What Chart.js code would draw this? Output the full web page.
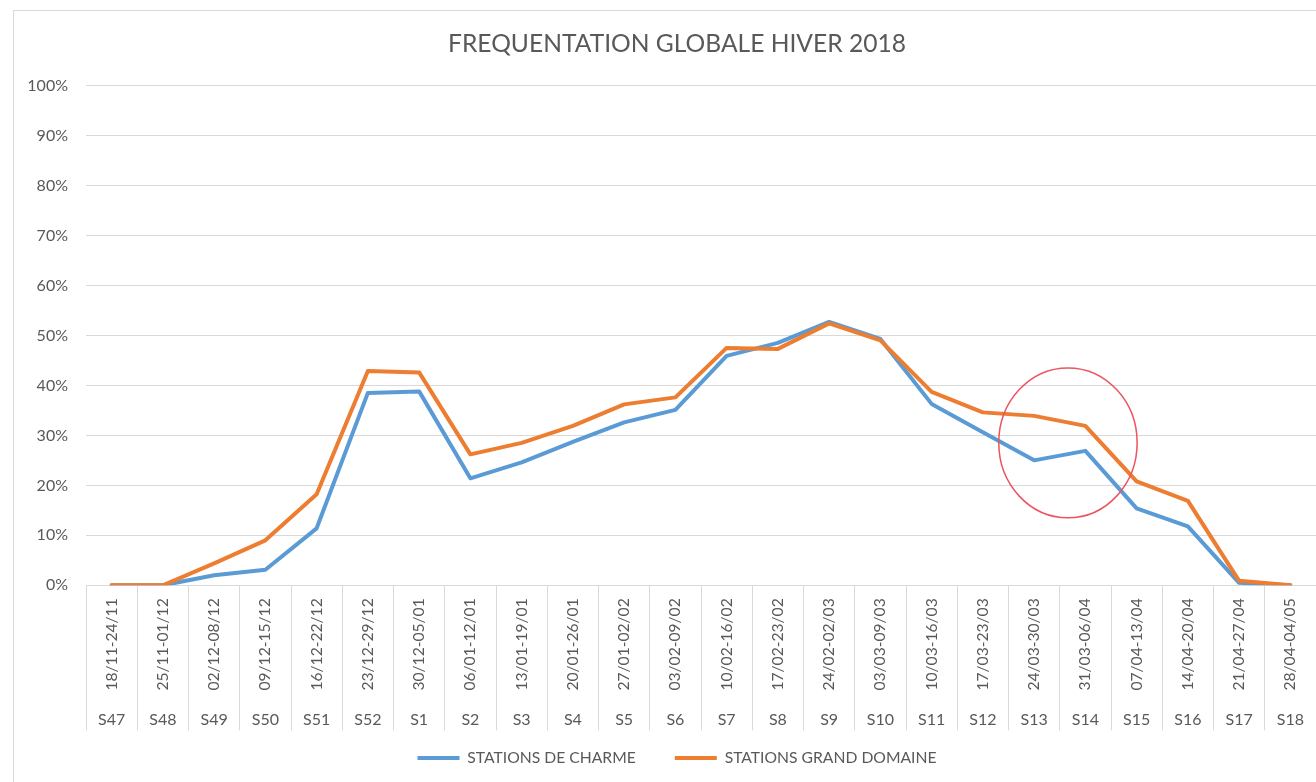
<!DOCTYPE html>
<html>
<head>
<meta charset="utf-8">
<script src="https://cdn.jsdelivr.net/npm/chart.js@4/dist/chart.umd.min.js"></script>
<style>
html,body{margin:0;padding:0;background:#fff;overflow:hidden;width:1316px;height:782px;}
#wrap{position:absolute;left:13px;top:10px;border-left:1px solid #d9d9d9;border-top:1px solid #d9d9d9;}
canvas{display:block;}
</style>
</head>
<body>
<div id="wrap"><canvas id="c" width="1326" height="784"></canvas></div>
<script>
// ---- data ----
const TITLE = 'FREQUENTATION GLOBALE HIVER 2018';
const dateLabels = ['18/11-24/11','25/11-01/12','02/12-08/12','09/12-15/12','16/12-22/12','23/12-29/12',
  '30/12-05/01','06/01-12/01','13/01-19/01','20/01-26/01','27/01-02/02','03/02-09/02',
  '10/02-16/02','17/02-23/02','24/02-02/03','03/03-09/03','10/03-16/03','17/03-23/03',
  '24/03-30/03','31/03-06/04','07/04-13/04','14/04-20/04','21/04-27/04','28/04-04/05'];
const weekLabels = ['S47','S48','S49','S50','S51','S52','S1','S2','S3','S4','S5','S6',
  'S7','S8','S9','S10','S11','S12','S13','S14','S15','S16','S17','S18'];
const seriesNames = ['STATIONS DE CHARME','STATIONS GRAND DOMAINE'];
const charme = [0, 0, 2.0, 3.1, 11.4, 38.5, 38.8, 21.4, 24.6, 28.7, 32.6, 35.1,
  45.9, 48.5, 52.7, 49.3, 36.3, 30.6, 25.0, 26.9, 15.4, 11.8, 0.5, 0];
const grandDomaine = [0, 0, 4.4, 9.0, 18.2, 42.9, 42.6, 26.2, 28.5, 31.9, 36.2, 37.6,
  47.5, 47.3, 52.4, 49.0, 38.7, 34.6, 33.9, 31.9, 20.8, 16.9, 0.9, 0];
const yMin = 0, yMax = 100, yStep = 10;
// highlight ellipse (in data units: category index / percent)
const highlight = { index: 18.66, value: 28.5, rIndex: 1.35, rValue: 15.0 };

// ---- styling ----
const TEXT = '#595959';
const GRID = '#d9d9d9';
const BLUE = '#5B9BD5';
const ORANGE = '#ED7D31';
Chart.defaults.font.family = 'Lato, "Open Sans", sans-serif';
Chart.defaults.color = TEXT;

const LEGEND_ROW_Y = 747;
const TITLE_DX = 12;
const LEGEND_FONT = 15.7;

const shiftPlugin = {
  id: 'shift',
  afterLayout(chart) {
    const t = chart.titleBlock;
    if (t) { t.left += TITLE_DX; t.right += TITLE_DX; }
    const lg = chart.legend;
    if (lg) {
      lg.left += TITLE_DX; lg.right += TITLE_DX;
      const pad = lg.options.labels.padding;
      const dy = LEGEND_ROW_Y - (lg.top + pad + LEGEND_FONT / 2);
      lg.top += dy; lg.bottom += dy;
    }
  }
};

const ellipsePlugin = {
  id: 'highlight',
  afterDatasetsDraw(chart) {
    const xs = chart.scales.x, ys = chart.scales.y, ctx = chart.ctx;
    const cx = xs.getPixelForValue(highlight.index);
    const rx = Math.abs(xs.getPixelForValue(highlight.index + highlight.rIndex) - cx);
    const cy = ys.getPixelForValue(highlight.value);
    const ry = Math.abs(ys.getPixelForValue(highlight.value + highlight.rValue) - cy);
    ctx.save();
    ctx.beginPath();
    ctx.ellipse(cx, cy, rx, ry, 0, 0, Math.PI * 2);
    ctx.strokeStyle = '#EB5560';
    ctx.lineWidth = 1.5;
    ctx.stroke();
    ctx.restore();
  }
};

new Chart(document.getElementById('c'), {
  type: 'line',
  data: {
    labels: dateLabels,
    datasets: [
      { label: seriesNames[0], data: charme, borderColor: BLUE, backgroundColor: BLUE,
        borderWidth: 4, pointRadius: 0, tension: 0, borderJoinStyle: 'round', borderCapStyle: 'round', fill: false, order: 1 },
      { label: seriesNames[1], data: grandDomaine, borderColor: ORANGE, backgroundColor: ORANGE,
        borderWidth: 4, pointRadius: 0, tension: 0, borderJoinStyle: 'round', borderCapStyle: 'round', fill: false, order: 0 }
    ]
  },
  options: {
    responsive: false,
    animation: false,
    devicePixelRatio: 1,
    layout: { padding: { left: 0, right: 24, top: 0, bottom: 0 } },
    plugins: {
      title: {
        display: true, text: TITLE, color: TEXT,
        font: { size: 24.6, weight: 'normal' },
        padding: { top: 18, bottom: 27 }
      },
      legend: {
        position: 'bottom',
        labels: {
          boxWidth: 42, boxHeight: 4, padding: 39, color: TEXT,
          font: { size: LEGEND_FONT },
          generateLabels(chart) {
            const items = Chart.defaults.plugins.legend.labels.generateLabels(chart);
            items.forEach(i => { i.lineWidth = 0; i.fillStyle = i.strokeStyle; });
            items.sort((a, b) => a.datasetIndex - b.datasetIndex);
            return items;
          }
        }
      },
      tooltip: { enabled: false }
    },
    scales: {
      x: {
        type: 'category', position: 'bottom', offset: true,
        grid: { display: true, drawOnChartArea: false, drawTicks: true, tickLength: 120, offset: true, color: GRID },
        border: { display: true, color: GRID, width: 1 },
        ticks: { autoSkip: false, minRotation: 90, maxRotation: 90, padding: -107, color: TEXT, font: { size: 15.6 } },
        afterFit(s) { s.height = 110; }
      },
      x2: {
        type: 'category', position: 'bottom', offset: true, labels: weekLabels,
        grid: { display: true, drawOnChartArea: false, drawTicks: true, tickLength: 35, offset: true, color: GRID },
        border: { display: false },
        ticks: { autoSkip: false, minRotation: 0, maxRotation: 0, padding: -20, color: TEXT, font: { size: 16 } },
        afterFit(s) { s.height = 35; }
      },
      y: {
        min: yMin, max: yMax,
        grid: { color: GRID, drawTicks: false },
        border: { display: false },
        ticks: { stepSize: yStep, padding: 18, color: TEXT, font: { size: 16 }, callback: v => v + '%' },
        afterFit(s) { s.width = 72; }
      }
    }
  },
  plugins: [shiftPlugin, ellipsePlugin]
});
</script>
</body>
</html>
